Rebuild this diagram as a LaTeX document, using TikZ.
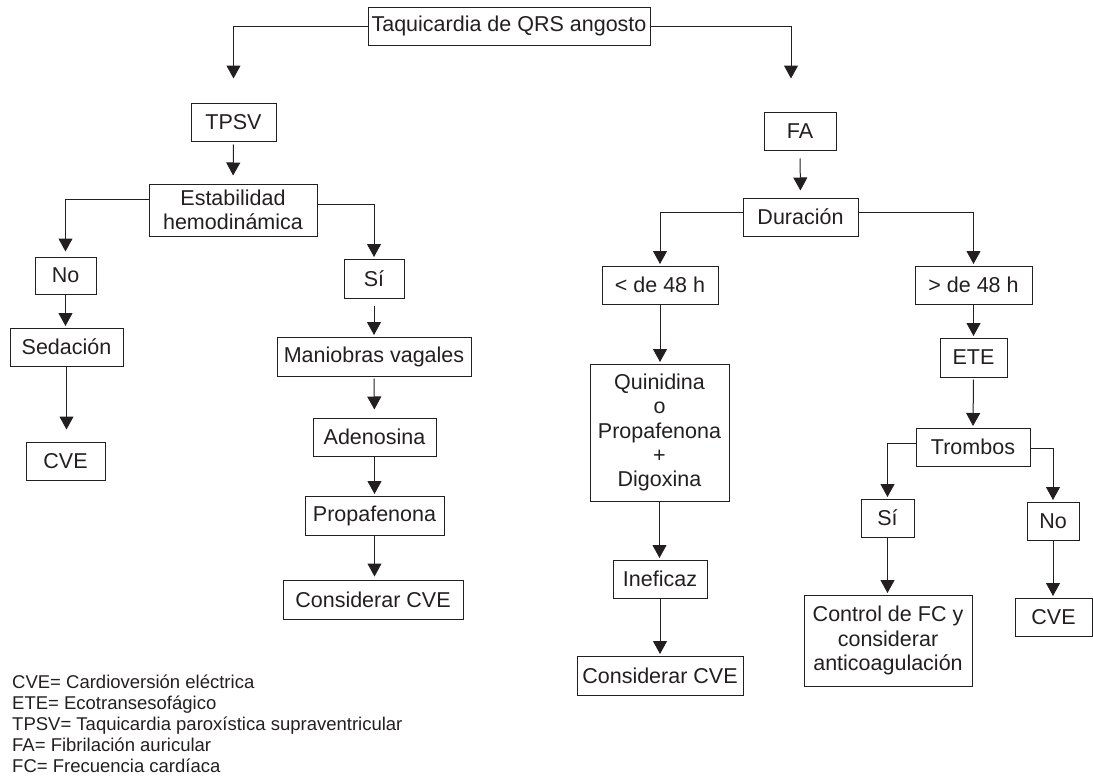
\documentclass[tikz,border=0pt]{standalone}
\usepackage{fontspec}
\setmainfont{Liberation Sans}
\usetikzlibrary{arrows.meta,calc}
\definecolor{ink}{RGB}{35,31,32}

\begin{document}
\begin{tikzpicture}[x=1pt,y=1pt,yscale=-1,
  box/.style={draw=ink, line width=1pt, text=ink, inner xsep=1pt, inner ysep=2pt, align=center, font=\fontsize{21.5}{24.4}\selectfont},
  arr/.style={draw=ink, line width=1pt, -{Triangle[width=14pt,length=13pt]}, shorten >=1.5pt},
  legend/.style={anchor=base west, inner sep=0pt, text=ink, font=\fontsize{18.5}{21}\selectfont}]
\useasboundingbox (0,0) rectangle (1093,779);

% Text Node
\draw (509,26) node [box, minimum width=282pt, minimum height=38pt] (root) {Taquicardia de QRS angosto};

%% left branch
% Text Node
\draw (233.5,122) node [box, minimum width=85pt, minimum height=38pt] (tpsv) {TPSV};
% Text Node
\draw (233,210) node [box, minimum width=168pt, minimum height=52pt] (est) {Estabilidad\\hemodinámica};
% Text Node
\draw (65.5,275.5) node [box, minimum width=61pt, minimum height=37pt] (no1) {No};
% Text Node
\draw (374,278.5) node [box, minimum width=60pt, minimum height=39pt] (si1) {Sí};
% Text Node
\draw (66.5,347) node [box, minimum width=113pt, minimum height=38pt] (sed) {Sedación};
% Text Node
\draw (65.5,461) node [box, minimum width=79pt, minimum height=38pt] (cve1) {CVE};
% Text Node
\draw (374,356.5) node [box, minimum width=194pt, minimum height=39pt] (man) {Maniobras vagales};
% Text Node
\draw (374.5,437) node [box, minimum width=123pt, minimum height=38pt] (ade) {Adenosina};
% Text Node
\draw (374.5,515.5) node [box, minimum width=139pt, minimum height=39pt] (pro) {Propafenona};
% Text Node
\draw (373,599.5) node [box, minimum width=180pt, minimum height=39pt] (cons1) {Considerar CVE};

%% right branch
% Text Node
\draw (800,131) node [box, minimum width=72pt, minimum height=38pt] (fa) {FA};
% Text Node
\draw (800.5,217) node [box, minimum width=115pt, minimum height=38pt] (dur) {Duración};
% Text Node
\draw (660,285) node [box, minimum width=116pt, minimum height=38pt] (lt48) {< de 48 h};
% Text Node
\draw (973.5,285) node [box, minimum width=117pt, minimum height=38pt] (gt48) {> de 48 h};
% Text Node
\draw (659.5,432.5) node [box, minimum width=139pt, minimum height=137pt] (quin) {Quinidina\\o\\Propafenona\\+\\Digoxina};
% Text Node
\draw (660,579) node [box, minimum width=94pt, minimum height=38pt] (inef) {Ineficaz};
% Text Node
\draw (660,675.5) node [box, minimum width=166pt, minimum height=39pt] (cons2) {Considerar CVE};
% Text Node
\draw (973.5,357.5) node [box, minimum width=67pt, minimum height=39pt] (ete) {ETE};
% Text Node
\draw (973,447) node [box, minimum width=114pt, minimum height=38pt] (tromb) {Trombos};
% Text Node
\draw (887.5,518) node [box, minimum width=53pt, minimum height=38pt] (si2) {Sí};
% Text Node
\draw (1053,521) node [box, minimum width=52pt, minimum height=38pt] (no2) {No};
% Text Node
\draw (888,640.5) node [box, minimum width=168pt, minimum height=91pt] (ctrl) {Control de FC y\\considerar\\anticoagulación};
% Text Node
\draw (1053.5,617) node [box, minimum width=77pt, minimum height=38pt] (cve2) {CVE};

%Connectors
\draw [arr, shorten >=24pt] (root.west) -| (tpsv.north);
\draw [arr, shorten >=33pt] (root.east) -| ($(fa.north)+(-9,0)$);
\draw [arr, shorten <=3pt, shorten >=8pt] (tpsv.south) -- (est.north);
\draw [arr, shorten >=5pt] ($(est.west)+(0,-11)$) -| (no1.north);
\draw [arr] ($(est.east)+(0,-6)$) -| (si1.north);
\draw [arr] (no1.south) -- (no1.south |- sed.north);
\draw [arr, shorten >=12pt] (sed.south) -- (sed.south |- cve1.north);
\draw [arr, shorten <=7pt] (si1.south) -- (man.north);
\draw [arr, shorten <=2pt, shorten >=8pt] (man.south) -- (ade.north);
\draw [arr] (ade.south) -- (pro.north);
\draw [arr, shorten >=3pt] (pro.south) -- (pro.south |- cons1.north);
\draw [arr, shorten <=8pt, shorten >=7pt] (fa.south) -- (dur.north);
\draw [arr] ($(dur.west)+(0,-5)$) -| (lt48.north);
\draw [arr] ($(dur.east)+(0,-5)$) -| (gt48.north);
\draw [arr] (lt48.south) -- (lt48.south |- quin.north);
\draw [arr] (gt48.south) -- (ete.north);
\draw [arr] (quin.south) -- (quin.south |- inef.north);
\draw [arr] (inef.south) -- (cons2.north);
\draw [arr, shorten <=2pt] (ete.south) -- (tromb.north);
\draw [arr] ($(tromb.west)+(0,-4)$) -| (si2.north);
\draw [arr] ($(tromb.east)+(0,1)$) -| (no2.north);
\draw [arr] (si2.south) -- (si2.south |- ctrl.north);
\draw [arr] (no2.south) -- (no2.south |- cve2.north);

% Legend
\draw (12,688) node [legend] (leg1) {CVE= Cardioversión eléctrica};
\draw (12,709) node [legend] (leg2) {ETE= Ecotransesofágico};
\draw (12,730) node [legend] (leg3) {TPSV= Taquicardia paroxística supraventricular};
\draw (12,751) node [legend] (leg4) {FA= Fibrilación auricular};
\draw (12,772) node [legend] (leg5) {FC= Frecuencia cardíaca};
\end{tikzpicture}
\end{document}
